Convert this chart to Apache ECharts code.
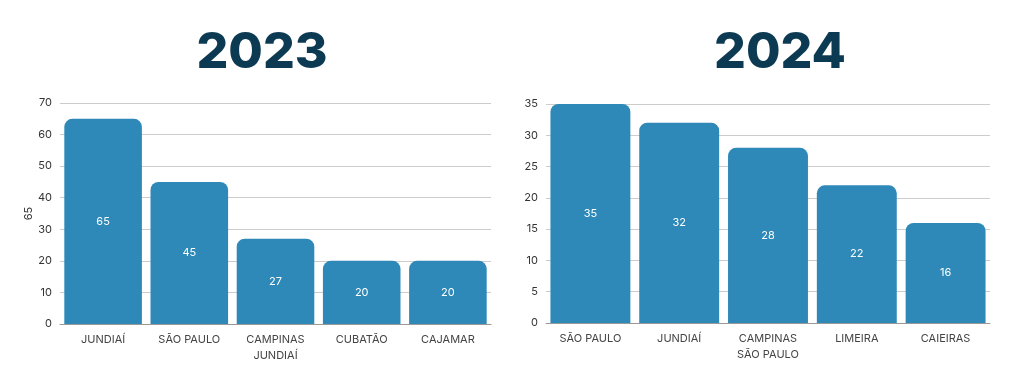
<!DOCTYPE html>
<html>
<head>
<meta charset="utf-8">
<script src="https://cdn.jsdelivr.net/npm/echarts@6/dist/echarts.min.js"></script>
<style>
  html, body { margin: 0; padding: 0; background: #fff; }
  #chart { width: 1024px; height: 378px; }
</style>
</head>
<body>
<div id="chart"></div>
<script>
// 2023
const cities2023 = ["JUNDIAÍ", "SÃO PAULO", "CAMPINAS\nJUNDIAÍ", "CUBATÃO", "CAJAMAR"];
const values2023 = [65, 45, 27, 20, 20];
// 2024
const cities2024 = ["SÃO PAULO", "JUNDIAÍ", "CAMPINAS\nSÃO PAULO", "LIMEIRA", "CAIEIRAS"];
const values2024 = [35, 32, 28, 22, 16];

const font = "Inter, 'Noto Sans', sans-serif";
const barColor = "#2e89b8";

const chart = echarts.init(document.getElementById("chart"));

const xAxisBase = {
  type: "category",
  axisTick: { show: false },
  axisLine: { lineStyle: { color: "#999" } },
  axisLabel: { color: "#444", fontSize: 11, fontFamily: font, lineHeight: 16, margin: 8 },
};
const yAxisBase = {
  type: "value",
  min: 0,
  axisLine: { show: false },
  axisTick: { show: false },
  axisLabel: { color: "#333", fontSize: 11, fontFamily: font, margin: 8 },
  splitLine: { lineStyle: { color: "#ccc" } },
};
const barBase = {
  type: "bar",
  barCategoryGap: "10%",
  itemStyle: { color: barColor, borderRadius: [8, 8, 0, 0] },
  label: { show: true, position: "inside", color: "#fff", fontSize: 11, fontFamily: font },
};

const option = {
  animation: false,
  title: [
    {
      text: "2023", left: 257, top: 23, textAlign: "center",
      textStyle: { fontSize: 50, fontWeight: 800, color: "#0d3a53", fontFamily: font },
    },
    {
      text: "2024", left: 775, top: 23, textAlign: "center",
      textStyle: { fontSize: 50, fontWeight: 800, color: "#0d3a53", fontFamily: font },
    },
  ],
  grid: [
    { left: 60, right: 533, top: 103, bottom: 54 },
    { left: 546, right: 34, top: 104, bottom: 55 },
  ],
  xAxis: [
    { ...xAxisBase, gridIndex: 0, data: cities2023 },
    { ...xAxisBase, gridIndex: 1, data: cities2024 },
  ],
  yAxis: [
    {
      ...yAxisBase, gridIndex: 0, max: 70, interval: 10,
      name: "65", nameLocation: "middle", nameRotate: 90, nameGap: 26,
      nameTextStyle: { color: "#333", fontSize: 11, fontFamily: font },
    },
    { ...yAxisBase, gridIndex: 1, max: 35, interval: 5 },
  ],
  series: [
    { ...barBase, xAxisIndex: 0, yAxisIndex: 0, data: values2023 },
    { ...barBase, xAxisIndex: 1, yAxisIndex: 1, data: values2024 },
  ],
};

chart.setOption(option);
</script>
</body>
</html>
